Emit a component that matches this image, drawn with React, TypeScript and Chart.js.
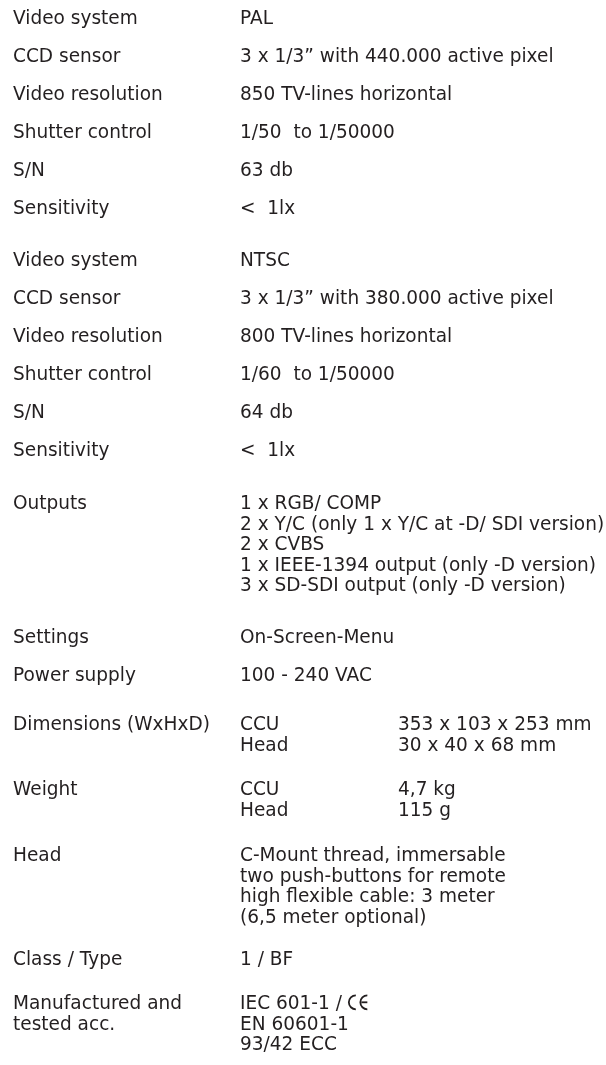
import React, { useEffect, useRef } from "react";
import { Chart, registerables } from "chart.js";

Chart.register(...registerables);

// ---- Data (text content) ----
const labels: string[][] = [
  ["Video system"],
  ["CCD sensor"],
  ["Video resolution"],
  ["Shutter control"],
  ["S/N"],
  ["Sensitivity"],
  ["Video system"],
  ["CCD sensor"],
  ["Video resolution"],
  ["Shutter control"],
  ["S/N"],
  ["Sensitivity"],
  ["Outputs"],
  ["Settings"],
  ["Power supply"],
  ["Dimensions (WxHxD)"],
  ["Weight"],
  ["Head"],
  ["Class / Type"],
  ["Manufactured and", "tested acc."],
];

const values: string[][] = [
  ["PAL"],
  ["3 x 1/3\u201D with 440.000 active pixel"],
  ["850 TV-lines horizontal"],
  ["1/50  to 1/50000"],
  ["63 db"],
  ["<  1lx"],
  ["NTSC"],
  ["3 x 1/3\u201D with 380.000 active pixel"],
  ["800 TV-lines horizontal"],
  ["1/60  to 1/50000"],
  ["64 db"],
  ["<  1lx"],
  [
    "1 x RGB/ COMP",
    "2 x Y/C (only 1 x Y/C at -D/ SDI version)",
    "2 x CVBS",
    "1 x IEEE-1394 output (only -D version)",
    "3 x SD-SDI output (only -D version)",
  ],
  ["On-Screen-Menu"],
  ["100 - 240 VAC"],
  ["CCU", "Head"],
  ["CCU", "Head"],
  [
    "C-Mount thread, immersable",
    "two push-buttons for remote",
    "high flexible cable: 3 meter",
    "(6,5 meter optional)",
  ],
  ["1 / BF"],
  ["IEC 601-1 / ", "EN 60601-1", "93/42 ECC"],
];

const details: string[][] = [
  [], [], [], [], [], [], [], [], [], [], [], [], [], [], [],
  ["353 x 103 x 253 mm", "30 x 40 x 68 mm"],
  ["4,7 kg", "115 g"],
  [], [], [],
];

// entries whose first value line ends with the CE mark
const ceMarkRows: number[] = [19];

// ---- Layout (positions in scale units) ----
const rowBaselines: number[] = [
  24, 62, 100, 138, 176, 214,
  266, 304, 342, 380, 418, 456,
  509, 643, 681, 730, 795, 861, 965, 1009,
];
const lineStep = 20.5;
const colLabel = 13;
const colValue = 240;
const colDetail = 398;

// ---- Style ----
const FONT = "19px 'DejaVu Sans'";
const XSCALE = 0.975;
const COLOR = "#231f20";

const textPlugin = {
  id: "specText",
  afterDraw(chart: any) {
    const { ctx, scales } = chart;
    const xs = scales.x;
    const ys = scales.y;
    ctx.save();
    ctx.font = FONT;
    ctx.fillStyle = COLOR;
    ctx.strokeStyle = COLOR;
    ctx.textBaseline = "alphabetic";
    ctx.textAlign = "left";
    const drawLine = (t: string, px: number, py: number) => {
      ctx.save();
      ctx.translate(px, py);
      ctx.scale(XSCALE, 1);
      ctx.fillText(t, 0, 0);
      ctx.restore();
    };
    const drawCol = (lines: string[], col: number, row: number) => {
      lines.forEach((t, i) => {
        drawLine(
          t,
          xs.getPixelForValue(col),
          ys.getPixelForValue(rowBaselines[row] + i * lineStep)
        );
      });
    };
    labels.forEach((l, r) => {
      drawCol(l, colLabel, r);
      drawCol(values[r], colValue, r);
      drawCol(details[r], colDetail, r);
    });
    // CE mark
    ceMarkRows.forEach((r) => {
      const text = values[r][0];
      const w = ctx.measureText(text).width * XSCALE;
      const x0 = xs.getPixelForValue(colValue) + w + 1;
      const yb = ys.getPixelForValue(rowBaselines[r]);
      const rad = 7;
      const cy = yb - rad + 0.3;
      ctx.lineWidth = 1.8;
      ctx.beginPath();
      ctx.arc(x0 + rad, cy, rad, Math.PI * 0.5, Math.PI * 1.5);
      ctx.stroke();
      const ex = x0 + rad + 4.5;
      ctx.beginPath();
      ctx.arc(ex + rad, cy, rad, Math.PI * 0.5, Math.PI * 1.5);
      ctx.stroke();
      ctx.beginPath();
      ctx.moveTo(ex + 1, cy);
      ctx.lineTo(ex + rad, cy);
      ctx.stroke();
    });
    ctx.restore();
  },
};

export default function App() {
  const ref = useRef<HTMLCanvasElement | null>(null);
  useEffect(() => {
    document.body.style.margin = "0";
    document.body.style.background = "#ffffff";
    const canvas = ref.current;
    if (!canvas) return;
    const chart = new Chart(canvas, {
      type: "scatter",
      data: { datasets: [] },
      options: {
        animation: false,
        responsive: false,
        devicePixelRatio: 1,
        layout: { padding: 0 },
        plugins: { legend: { display: false }, tooltip: { enabled: false } },
        scales: {
          x: { type: "linear", min: 0, max: 606, display: false },
          y: { type: "linear", min: 0, max: 1065, reverse: true, display: false },
        },
      },
      plugins: [textPlugin],
    });
    return () => chart.destroy();
  }, []);
  return (
    <div style={{ width: 606, height: 1065, background: "#fff" }}>
      <canvas ref={ref} width={606} height={1065} style={{ display: "block", width: 606, height: 1065 }} />
    </div>
  );
}
